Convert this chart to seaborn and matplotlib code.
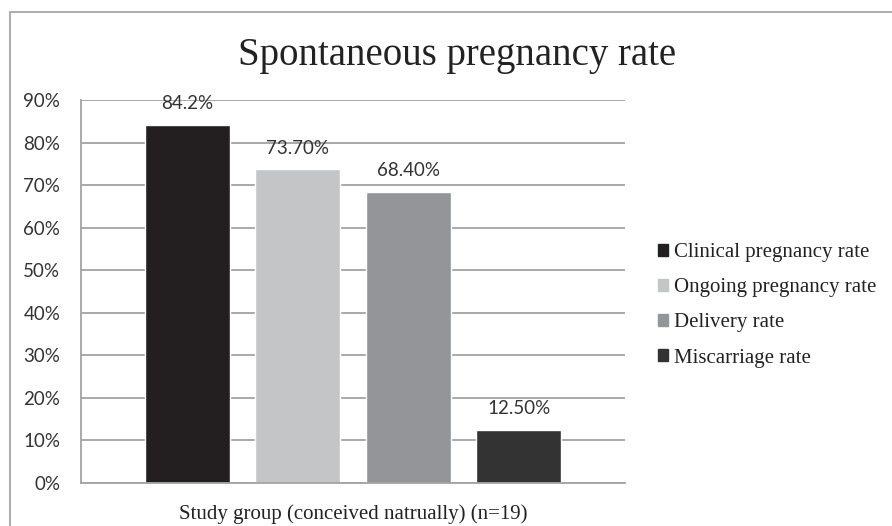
#====================================================================
# Spontaneous pregnancy rate - study group (n=19)
#====================================================================

import pandas as pd
import matplotlib
matplotlib.use("Agg")
import matplotlib.pyplot as plt
import matplotlib.patches as mpatches
from matplotlib.ticker import FuncFormatter
import seaborn as sns

#====================================================================
# DATOS
#====================================================================

group_label = "Study group (conceived natrually) (n=19)"
metrics = [
    "Clinical pregnancy rate",
    "Ongoing pregnancy rate",
    "Delivery rate",
    "Miscarriage rate",
]
values = [84.2, 73.7, 68.4, 12.5]
value_labels = ["84.2%", "73.70%", "68.40%", "12.50%"]
bar_colors = ["#231f20", "#c4c5c7", "#939598", "#333333"]
y_ticks = [0, 10, 20, 30, 40, 50, 60, 70, 80, 90]

df = pd.DataFrame({
    "group": [group_label] * len(metrics),
    "metric": metrics,
    "value": values,
})

#====================================================================
# FIGURA
#====================================================================

sns.set_style("white")
plt.rcParams["font.family"] = ["Lato", "DejaVu Sans"]

fig = plt.figure(figsize=(8.92, 5.26), dpi=100)
ax = fig.add_axes([81 / 892, 1 - 483 / 526, 544 / 892, 383 / 526])

# borde exterior del grafico
fig.patches.append(
    mpatches.Rectangle(
        (10 / 892, -0.05), 1.0, 1 - 12 / 526 + 0.05,
        transform=fig.transFigure, fill=False,
        edgecolor="#a6a6a6", linewidth=1.3
    )
)

sns.barplot(
    data=df, x="group", y="value", hue="metric",
    hue_order=metrics, palette=bar_colors,
    width=0.8125, gap=0.23, saturation=1,
    legend=False, ax=ax
)

ax.set_xlim(-0.5, 0.5)
ax.set_ylim(0, 90)
ax.set_yticks(y_ticks)
ax.yaxis.set_major_formatter(FuncFormatter(lambda v, p: f"{v:.0f}%"))
ax.grid(axis="y", color="#a3a3a3", linewidth=1.3)
ax.set_axisbelow(True)
ax.tick_params(axis="y", length=0, pad=15, labelsize=13.5, labelcolor="#333333")
ax.set_xticks([])
ax.set_ylabel("")
ax.set_xlabel(
    group_label, fontsize=15, family="Liberation Serif",
    color="#222222", labelpad=15
)

for side in ["top", "right"]:
    ax.spines[side].set_visible(False)
for side in ["left", "bottom"]:
    ax.spines[side].set_color("#a3a3a3")
    ax.spines[side].set_linewidth(1.3)

# etiquetas de valor
for cont, lab in zip(ax.containers, value_labels):
    ax.bar_label(cont, labels=[lab], padding=9, fontsize=13.5, color="#333333")

#====================================================================
# TITULO Y LEYENDA
#====================================================================

fig.text(
    457 / 892, 1 - 56 / 526, "Spontaneous pregnancy rate",
    ha="center", va="center", fontsize=28,
    family="Liberation Serif", color="#222222"
)

handles = [mpatches.Patch(color=c, label=m) for c, m in zip(bar_colors, metrics)]
fig.legend(
    handles=handles, loc="upper left",
    bbox_to_anchor=(658 / 892, 1 - 243 / 526),
    frameon=False, borderpad=0, borderaxespad=0,
    handlelength=0.5, handleheight=0.5, handletextpad=0.25,
    labelspacing=0.78,
    prop={"family": "Liberation Serif", "size": 15},
    labelcolor="#222222"
)

fig.savefig("out.png", dpi=100)
